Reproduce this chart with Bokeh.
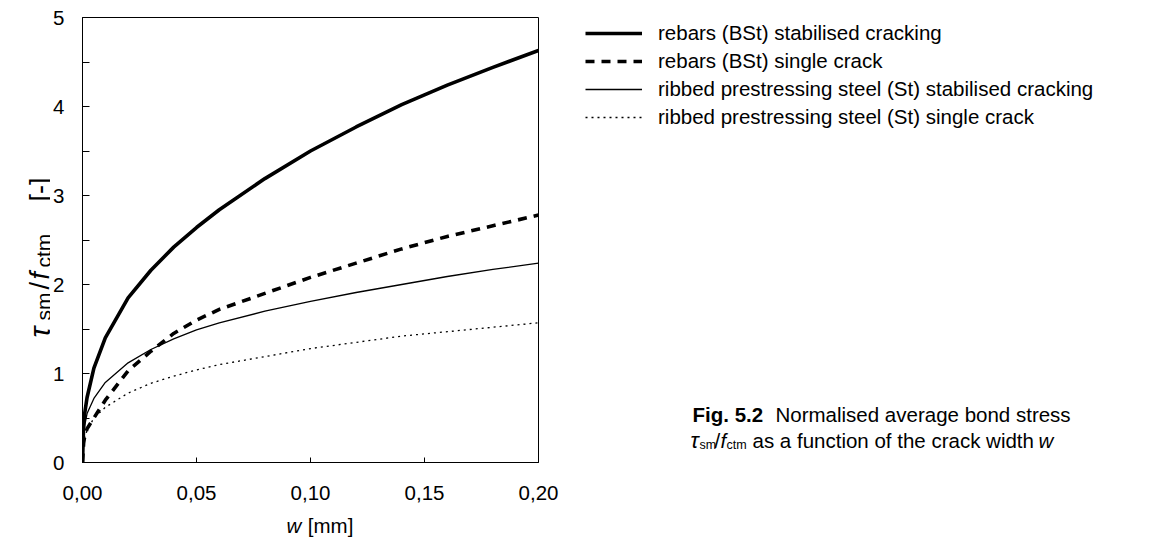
import math
from bokeh.plotting import figure
from bokeh.layouts import row, column
from bokeh.models import FixedTicker, Legend, LegendItem, Range1d
from bokeh.core.properties import value
from bokeh.embed import file_html
from bokeh.resources import INLINE

# ---- data ----
w_mm = [0.0, 0.0005, 0.001, 0.002, 0.005, 0.01, 0.02, 0.03, 0.04, 0.05,
        0.06, 0.08, 0.10, 0.12, 0.14, 0.16, 0.18, 0.20]
bst_stabilised = [0.0, 0.42, 0.56, 0.73, 1.06, 1.40, 1.85, 2.16, 2.42, 2.64,
                  2.84, 3.19, 3.50, 3.77, 4.02, 4.24, 4.44, 4.63]
bst_single = [0.0, 0.22, 0.30, 0.38, 0.50, 0.70, 1.03, 1.25, 1.45, 1.60,
              1.72, 1.90, 2.08, 2.24, 2.40, 2.54, 2.66, 2.78]
st_stabilised = [0.0, 0.30, 0.42, 0.55, 0.72, 0.90, 1.12, 1.27, 1.39, 1.49,
                 1.57, 1.70, 1.81, 1.91, 2.00, 2.09, 2.17, 2.24]
st_single = [0.0, 0.20, 0.28, 0.36, 0.50, 0.62, 0.78, 0.89, 0.97, 1.04,
             1.10, 1.19, 1.28, 1.35, 1.42, 1.47, 1.52, 1.57]

series_labels = ["rebars (BSt) stabilised cracking",
                 "rebars (BSt) single crack",
                 "ribbed prestressing steel (St) stabilised cracking",
                 "ribbed prestressing steel (St) single crack"]

x_ticks = [0.0, 0.05, 0.10, 0.15, 0.20]
x_tick_labels = ["0,00", "0,05", "0,10", "0,15", "0,20"]
y_ticks = [0, 1, 2, 3, 4, 5]
y_minor = [0.5, 1.5, 2.5, 3.5, 4.5]

FONT = "Liberation Sans"
FS = "20.5px"
SUB = "12.5px"

H = 545           # total page height used
YL_W = 50         # left strip for the y-axis title
FRAME_L, FRAME_T = 80, 17   # frame position on the page
FW, FH = 458, 445
P_RIGHT = 24
P_BOTTOM = 50
P_W = (FRAME_L - YL_W) + FW + P_RIGHT
P_H = FRAME_T + FH + P_BOTTOM
XL_H = H - P_H
RT_W = 1142 - YL_W - P_W
RT_X0 = YL_W + P_W


def blank(w, h):
    f = figure(width=w, height=h, output_backend="svg", toolbar_location=None,
               x_range=Range1d(0, w), y_range=Range1d(0, h),
               x_axis_location=None, y_axis_location=None,
               min_border=0, min_border_left=0, min_border_right=0,
               min_border_top=0, min_border_bottom=0)
    f.xgrid.visible = False
    f.ygrid.visible = False
    f.outline_line_color = None
    f.background_fill_color = "white"
    f.border_fill_color = "white"
    return f


def txt(f, x, y, text, size=FS, style="normal", angle=0.0, align="left"):
    f.text(x=[x], y=[y], text=[text], text_font=value(FONT), text_font_size=size,
           text_font_style=style, text_color="black", angle=angle,
           text_align=align, text_baseline="alphabetic")


def ypage(y):
    return H - y


# ---- main plot ----
p = figure(width=P_W, height=P_H, output_backend="svg", toolbar_location=None,
           x_range=Range1d(0, 0.2), y_range=Range1d(0, 5),
           min_border_left=FRAME_L - YL_W, min_border_top=FRAME_T,
           min_border_right=P_RIGHT, min_border_bottom=P_BOTTOM)
p.xgrid.visible = False
p.ygrid.visible = False
p.outline_line_color = "black"
p.outline_line_width = 1
p.background_fill_color = "white"
p.border_fill_color = "white"

p.xaxis.ticker = FixedTicker(ticks=x_ticks)
p.xaxis.major_label_overrides = {t: l for t, l in zip(x_ticks, x_tick_labels)}
p.xaxis.major_tick_in = 5
p.xaxis.major_tick_out = 0
p.xaxis.minor_tick_in = 0
p.xaxis.minor_tick_out = 0
p.xaxis.major_label_standoff = 23

p.yaxis.ticker = FixedTicker(ticks=y_ticks, minor_ticks=y_minor)
p.yaxis.major_tick_in = 7
p.yaxis.major_tick_out = 0
p.yaxis.minor_tick_in = 7
p.yaxis.minor_tick_out = 0
p.yaxis.major_label_standoff = 18

for ax in (p.xaxis[0], p.yaxis[0]):
    ax.axis_line_color = "black"
    ax.axis_line_width = 1
    ax.major_tick_line_color = "black"
    ax.minor_tick_line_color = "black"
    ax.major_label_text_font = FONT
    ax.major_label_text_font_size = FS
    ax.major_label_text_color = "black"

STYLES = [dict(line_width=3.6),
          dict(line_width=3.6, line_dash="9 7"),
          dict(line_width=1.3),
          dict(line_width=1.3, line_dash="2 4")]
SERIES = [bst_stabilised, bst_single, st_stabilised, st_single]
for ys, st in zip(SERIES, STYLES):
    p.line(w_mm, ys, line_color="black", **st)

# ---- y-axis title strip (rotated, reads bottom to top) ----
yl = blank(YL_W, H)
A = math.pi / 2
bx = 39
MAIN_Y = "27px"
SUB_Y = "21px"
txt(yl, bx, ypage(337), "\u03c4", size="29px", style="italic", angle=A)
txt(yl, bx + 4, ypage(320), "sm", size=SUB_Y, angle=A)
txt(yl, bx, ypage(289), "/", size=MAIN_Y, angle=A)
txt(yl, bx, ypage(279), "f", size=MAIN_Y, style="italic", angle=A)
txt(yl, bx + 4, ypage(267), "ctm", size=SUB_Y, angle=A)
txt(yl, bx, ypage(201), "[-]", size=MAIN_Y, angle=A)

# ---- x-axis title strip ----
xl = blank(P_W, XL_H)
xo = YL_W


def xlb(y):
    return XL_H - (y - P_H)


txt(xl, 279 - xo, xlb(525), "w", style="italic")
txt(xl, 303 - xo, xlb(525), "[mm]")

# ---- right strip: legend + caption ----
rt = blank(RT_W, H)
leg_r = []
for st in STYLES:
    # legend-sample renderers, kept outside the visible range of this strip
    leg_r.append(rt.line([-20, -10], [-20, -20], line_color="black", **st))
legend = Legend(items=[LegendItem(label=lab, renderers=[r])
                       for lab, r in zip(series_labels, leg_r)],
                location=(585 - RT_X0, H - 129), orientation="vertical",
                glyph_width=57, glyph_height=20, label_height=20, spacing=4,
                label_standoff=16, padding=0, margin=0,
                border_line_color=None, background_fill_alpha=0,
                label_text_font=FONT, label_text_font_size=FS,
                label_text_color="black")
rt.add_layout(legend)


def rx(x):
    return x - RT_X0


txt(rt, rx(692), ypage(414), "Fig. 5.2", style="bold")
txt(rt, rx(775), ypage(414), "Normalised average bond stress")
txt(rt, rx(690), ypage(440), "\u03c4", size="22px", style="italic")
txt(rt, rx(699), ypage(444), "sm", size=SUB)
txt(rt, rx(714), ypage(440), "/")
txt(rt, rx(720), ypage(440), "f", style="italic")
txt(rt, rx(726), ypage(444), "ctm", size=SUB)
txt(rt, rx(752), ypage(440), "as a function of the crack width")
txt(rt, rx(1038), ypage(440), "w", style="italic")

layout = row(yl, column(p, xl), rt)
open("out.html", "w").write(file_html(layout, INLINE))
